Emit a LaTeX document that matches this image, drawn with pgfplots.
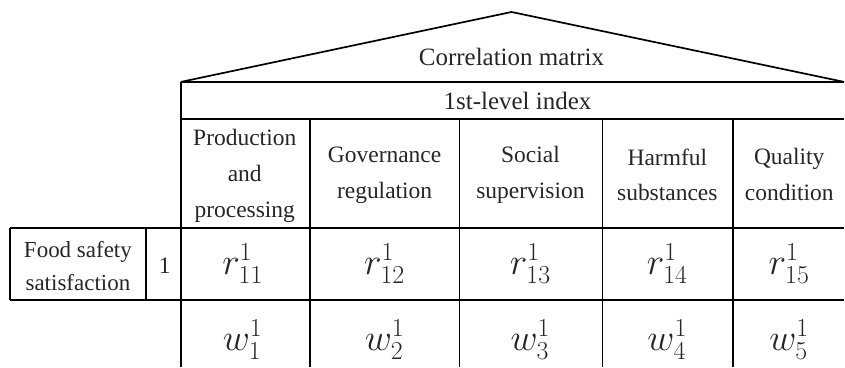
\documentclass[border=0pt]{standalone}
\usepackage{fontspec}
\setmainfont{Liberation Serif}
\usepackage{graphicx}
\usepackage{pgfplots}
\pgfplotsset{compat=1.18}

\newcommand{\cell}[1]{\scalebox{1.5}{$#1$}}
\tikzset{
    lbl/.style={font=\fontsize{23.5}{36}\selectfont, text=black!85, align=center, inner sep=0pt},
    rule/.style={black, line width=1.7pt},
}

\begin{document}
\begin{tikzpicture}
\begin{axis}[
    width=845pt, height=367pt, scale only axis,
    xmin=0, xmax=845, ymin=0, ymax=367,
    y dir=reverse,
    hide axis, clip=false,
]
% frame of the invisible canvas
\addplot[draw=none] coordinates {(0,0) (845,367)};

% roof
\addplot[rule] coordinates {(181,82) (512,12) (845,82)};

% horizontal rules
\addplot[rule] coordinates {(181,82) (845,82)};
\addplot[rule] coordinates {(181,119) (845,119)};
\addplot[rule] coordinates {(10,228) (845,228)};
\addplot[rule] coordinates {(10,300) (845,300)};

% vertical rules
\addplot[rule] coordinates {(181,82) (181,367)};
\addplot[rule] coordinates {(310,119) (310,367)};
\addplot[rule] coordinates {(460,119) (460,367)};
\addplot[rule] coordinates {(603,119) (603,367)};
\addplot[rule] coordinates {(734,119) (734,367)};
\addplot[rule] coordinates {(10,228) (10,300)};
\addplot[rule] coordinates {(146,228) (146,300)};

% headings
\node[lbl, font=\fontsize{25}{36}\selectfont] at (axis cs:512,57) {Correlation matrix};
\node[lbl, font=\fontsize{25}{36}\selectfont] at (axis cs:518,101) {1st-level index};

\node[lbl] at (axis cs:245,176) {Production\\and\\processing};
\node[lbl] at (axis cs:385,175) {Governance\\regulation};
\node[lbl] at (axis cs:531,175) {Social\\supervision};
\node[lbl] at (axis cs:668,175) {Harmful\\substances};
\node[lbl] at (axis cs:790,175) {Quality\\condition};

% row label
\node[lbl, font=\fontsize{23}{33}\selectfont] at (axis cs:78,266) {Food safety\\satisfaction};
\node[lbl] at (axis cs:165,266) {1};

% matrix entries
\node[lbl] at (axis cs:243,264) {\cell{r^1_{11}}};
\node[lbl] at (axis cs:385,264) {\cell{r^1_{12}}};
\node[lbl] at (axis cs:531,264) {\cell{r^1_{13}}};
\node[lbl] at (axis cs:668,264) {\cell{r^1_{14}}};
\node[lbl] at (axis cs:790,264) {\cell{r^1_{15}}};

\node[lbl] at (axis cs:243,340) {\cell{w^1_{1}}};
\node[lbl] at (axis cs:385,340) {\cell{w^1_{2}}};
\node[lbl] at (axis cs:531,340) {\cell{w^1_{3}}};
\node[lbl] at (axis cs:668,340) {\cell{w^1_{4}}};
\node[lbl] at (axis cs:790,340) {\cell{w^1_{5}}};
\end{axis}
\end{tikzpicture}
\end{document}
